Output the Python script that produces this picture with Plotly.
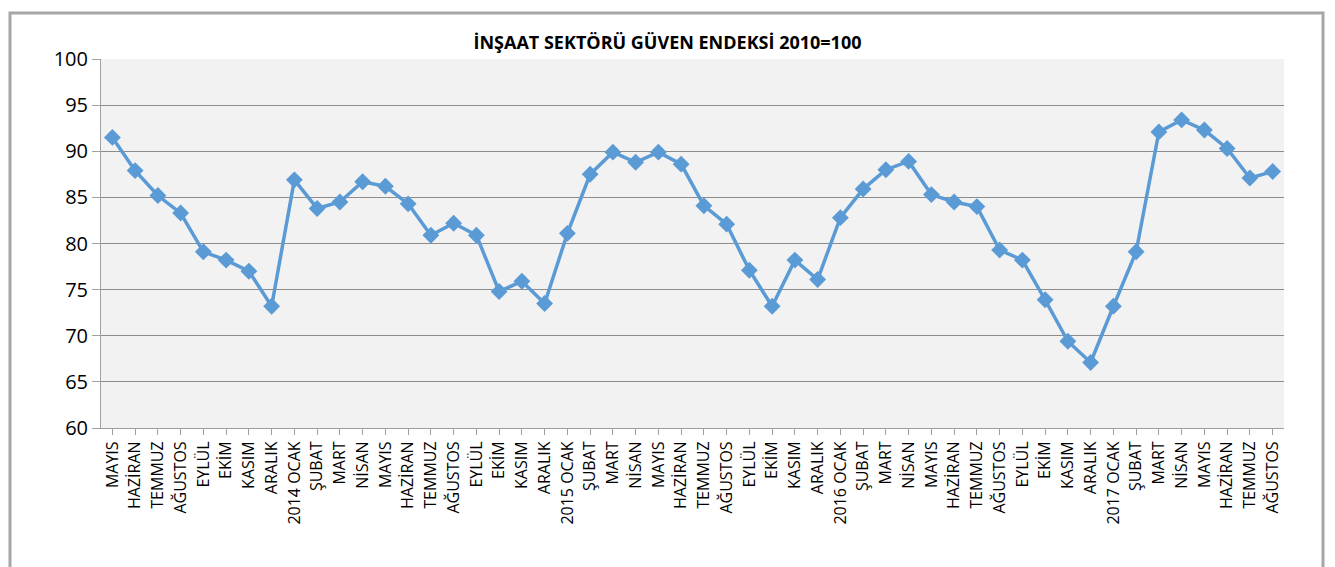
import plotly.graph_objects as go

categories = ["MAYIS", "HAZİRAN", "TEMMUZ", "AĞUSTOS", "EYLÜL", "EKİM", "KASIM", "ARALIK",
              "2014 OCAK", "ŞUBAT", "MART", "NİSAN", "MAYIS", "HAZİRAN", "TEMMUZ", "AĞUSTOS",
              "EYLÜL", "EKİM", "KASIM", "ARALIK",
              "2015 OCAK", "ŞUBAT", "MART", "NİSAN", "MAYIS", "HAZİRAN", "TEMMUZ", "AĞUSTOS",
              "EYLÜL", "EKİM", "KASIM", "ARALIK",
              "2016 OCAK", "ŞUBAT", "MART", "NİSAN", "MAYIS", "HAZİRAN", "TEMMUZ", "AĞUSTOS",
              "EYLÜL", "EKİM", "KASIM", "ARALIK",
              "2017 OCAK", "ŞUBAT", "MART", "NİSAN", "MAYIS", "HAZİRAN", "TEMMUZ", "AĞUSTOS"]

values = [91.5, 87.9, 85.2, 83.3, 79.1, 78.2, 77.0, 73.2,
          86.9, 83.8, 84.5, 86.7, 86.2, 84.3, 80.9, 82.2,
          80.9, 74.8, 75.9, 73.5,
          81.1, 87.5, 89.9, 88.8, 89.9, 88.6, 84.1, 82.1,
          77.1, 73.2, 78.2, 76.1,
          82.8, 85.9, 88.0, 88.9, 85.3, 84.5, 84.0, 79.3,
          78.2, 73.9, 69.4, 67.1,
          73.2, 79.1, 92.1, 93.4, 92.3, 90.3, 87.1, 87.8]

title_text = "İNŞAAT SEKTÖRÜ GÜVEN ENDEKSİ 2010=100"
y_ticks = [60, 65, 70, 75, 80, 85, 90, 95, 100]

x_idx = list(range(len(categories)))

fig = go.Figure()
fig.add_trace(go.Scatter(
    x=x_idx, y=values, mode="lines+markers",
    line=dict(color="#5b9bd5", width=3.5),
    marker=dict(symbol="diamond", size=13, color="#5b9bd5"),
    showlegend=False,
))

font_family = "Open Sans, Liberation Sans, sans-serif"

fig.update_layout(
    width=1335, height=567,
    margin=dict(l=101, r=51, t=59, b=139),
    paper_bgcolor="white",
    plot_bgcolor="#f2f2f2",
    font=dict(family=font_family, color="black"),
    title=dict(text="<b>" + title_text + "</b>", x=0.5, xanchor="center",
               y=1 - 43 / 567, yanchor="middle",
               font=dict(size=18, family=font_family, color="black")),
    xaxis=dict(
        tickmode="array", tickvals=x_idx, ticktext=categories,
        range=[-0.5, len(categories) - 0.5],
        tickangle=-90, tickfont=dict(size=16, family=font_family),
        showgrid=False, zeroline=False,
        showline=True, linecolor="#a0a0a0", linewidth=1,
        ticks="outside", ticklen=6, tickcolor="#a0a0a0", tickson="boundaries",
    ),
    yaxis=dict(
        range=[60, 100], tickvals=y_ticks,
        tickfont=dict(size=20, family=font_family),
        showgrid=True, gridcolor="#8c8c8c", gridwidth=1,
        zeroline=False,
        showline=True, linecolor="#a0a0a0", linewidth=1,
        ticks="outside", ticklen=8, tickcolor="#a0a0a0",
    ),
    shapes=[
        dict(type="rect", xref="paper", yref="paper",
             x0=(10 - 101) / 1183, x1=(1323 - 101) / 1183,
             y0=(428 - 600) / 369, y1=(428 - 13) / 369,
             line=dict(color="#a6a6a6", width=3), fillcolor="rgba(0,0,0,0)", layer="below"),
    ],
)

fig.write_html("out.html", config={"displayModeBar": False},
               post_script="document.body.style.margin='0';document.body.style.overflow='hidden';")
